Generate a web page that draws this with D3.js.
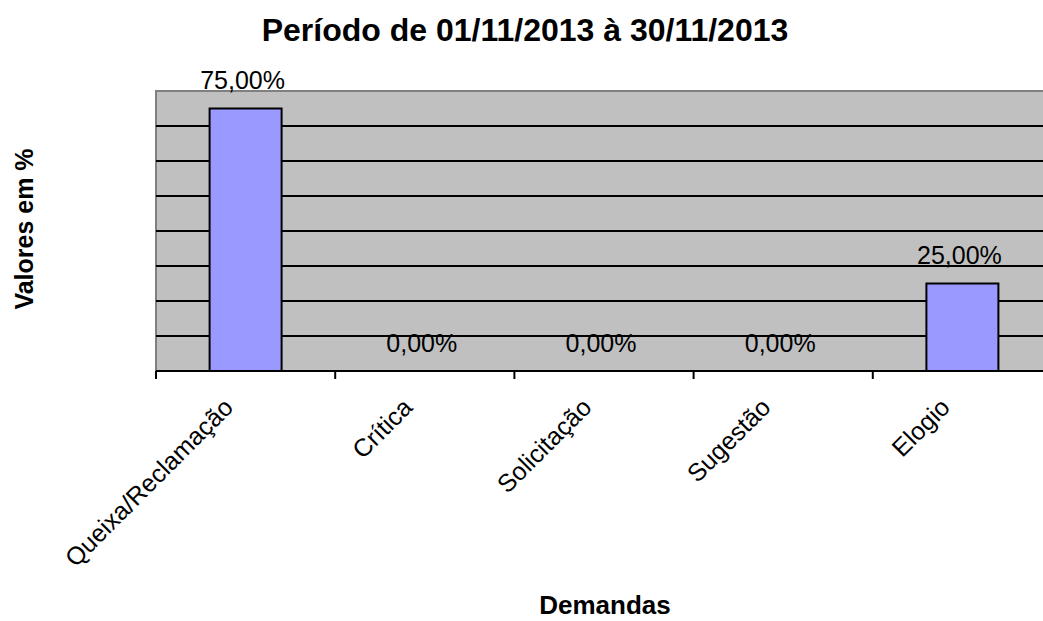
<!DOCTYPE html>
<html>
<head>
<meta charset="utf-8">
<script src="https://cdn.jsdelivr.net/npm/d3@7"></script>
<style>
  body { margin: 0; background: #fff; }
  svg { display: block; font-family: Arial, "Liberation Sans", sans-serif; }
</style>
</head>
<body>
<div id="chart"></div>
<script>
const title = "Período de 01/11/2013 à 30/11/2013";
const categories = ["Queixa/Reclamação", "Crítica", "Solicitação", "Sugestão", "Elogio"];
const values = [75, 0, 0, 0, 25];
const yTicks = [0, 10, 20, 30, 40, 50, 60, 70, 80];

const width = 1043, height = 621;
const margin = { top: 91, left: 156, bottom: 250 };
const plotW = 896; // runs off the right edge, like the original
const plotBottom = height - margin.bottom;
const barW = 72;

const svg = d3.select("#chart").append("svg")
  .attr("width", width).attr("height", height);

const x = d3.scaleBand().domain(categories).range([margin.left, margin.left + plotW]);
const y = d3.scaleLinear().domain([0, 80]).range([plotBottom, margin.top]);

// plot background
svg.append("rect")
  .attr("x", margin.left).attr("y", margin.top)
  .attr("width", plotW).attr("height", plotBottom - margin.top)
  .attr("fill", "#c0c0c0").attr("stroke", "#808080").attr("stroke-width", 2);

// gridlines
svg.append("g").selectAll("line").data(yTicks.filter(d => d > 0 && d < 80)).enter()
  .append("line")
  .attr("x1", margin.left).attr("x2", margin.left + plotW)
  .attr("y1", d => y(d)).attr("y2", d => y(d))
  .attr("stroke", "#000").attr("stroke-width", 2);

// bars
svg.append("g").selectAll("rect").data(values).enter()
  .append("rect")
  .attr("x", (d, i) => x(categories[i]) + (x.bandwidth() - barW) / 2)
  .attr("y", d => y(d))
  .attr("width", barW)
  .attr("height", d => plotBottom - y(d))
  .attr("fill", "#9999ff").attr("stroke", "#000").attr("stroke-width", 2);

// x axis line and ticks
svg.append("line")
  .attr("x1", margin.left).attr("x2", margin.left + plotW)
  .attr("y1", plotBottom).attr("y2", plotBottom)
  .attr("stroke", "#000").attr("stroke-width", 2);
svg.append("g").selectAll("line").data(categories).enter()
  .append("line")
  .attr("x1", d => x(d)).attr("x2", d => x(d))
  .attr("y1", plotBottom).attr("y2", plotBottom + 8)
  .attr("stroke", "#000").attr("stroke-width", 2);

// value labels
svg.append("g").selectAll("text").data(values).enter()
  .append("text")
  .attr("x", (d, i) => x(categories[i]) + x.bandwidth() / 2 - 3)
  .attr("y", d => y(d) - 19.5)
  .attr("text-anchor", "middle")
  .attr("font-size", 25)
  .attr("fill", "#000")
  .text(d => d.toFixed(2).replace(".", ",") + "%");

// category labels
svg.append("g").selectAll("text").data(categories).enter()
  .append("text")
  .attr("transform", d => `translate(${x(d) + x.bandwidth() / 2 - 11},${plotBottom + 38}) rotate(-45)`)
  .attr("text-anchor", "end")
  .attr("font-size", 25)
  .text(d => d);

// titles
svg.append("text")
  .attr("x", 525).attr("y", 41)
  .attr("text-anchor", "middle")
  .attr("font-size", 32).attr("font-weight", "bold")
  .text(title);

svg.append("text")
  .attr("x", 605).attr("y", 614)
  .attr("text-anchor", "middle")
  .attr("font-size", 26).attr("font-weight", "bold")
  .text("Demandas");

svg.append("text")
  .attr("transform", "translate(33,229) rotate(-90)")
  .attr("text-anchor", "middle")
  .attr("font-size", 25).attr("font-weight", "bold")
  .text("Valores em %");
</script>
</body>
</html>
